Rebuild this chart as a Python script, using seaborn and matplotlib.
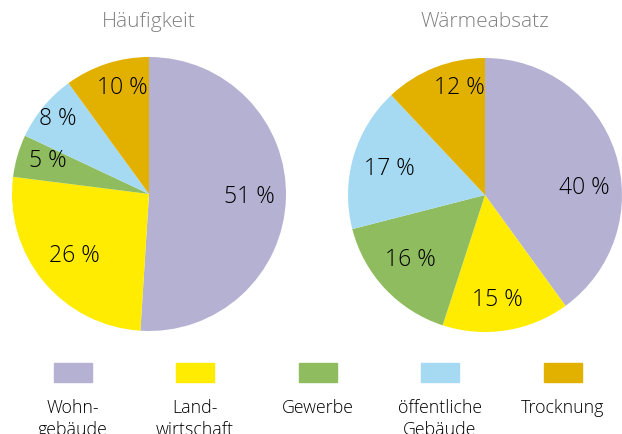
import numpy as np
import seaborn as sns
import matplotlib.pyplot as plt
from matplotlib.patches import Rectangle

# --- Data ---
categories = ["Wohn-\ngebäude", "Land-\nwirtschaft", "Gewerbe", "öffentliche\nGebäude", "Trocknung"]
haeufigkeit = [51, 26, 5, 8, 10]
waermeabsatz = [40, 15, 16, 17, 12]
titles = ["Häufigkeit", "Wärmeabsatz"]
colors = ["#b5b1d3", "#ffec00", "#8fbc5f", "#a6daf3", "#e2b100"]

sns.set_theme(style="white")
plt.rcParams["font.family"] = ["Open Sans", "DejaVu Sans"]

W, H = 622, 434
fig = plt.figure(figsize=(W / 100, H / 100), dpi=100)


def px_axes(cx, cy, r):
    return fig.add_axes([(cx - r) / W, (H - cy - r) / H, 2 * r / W, 2 * r / H])


# label placement tweaks (radial distance, angle nudge in degrees)
label_dist = [[0.73, 0.71, 0.78, 0.86, 0.80], [0.73, 0.77, 0.72, 0.72, 0.80]]
label_nudge = [[0, 0, -2, 0, -4], [-14, -2, -2, 1, -8]]

pie_specs = [(149, 194, haeufigkeit), (485, 195, waermeabsatz)]
for i, ((cx, cy, vals), title) in enumerate(zip(pie_specs, titles)):
    ax = px_axes(cx, cy, 137)
    wedges, _ = ax.pie(vals, colors=colors, startangle=90, counterclock=False,
                       wedgeprops=dict(linewidth=0))
    for j, (w, v) in enumerate(zip(wedges, vals)):
        ang = np.deg2rad((w.theta1 + w.theta2) / 2 + label_nudge[i][j])
        d = label_dist[i][j]
        ax.text(d * np.cos(ang), d * np.sin(ang), f"{v} %", ha="center",
                va="center", fontsize=16.5, color="#000000", fontweight="light")
    ax.set_aspect("equal")
    ax.set_xlim(-1, 1)
    ax.set_ylim(-1, 1)
    fig.text(cx / W, 1 - 22 / H, title, ha="center", va="center",
             fontsize=15, color="#808080", fontweight="light")

# --- Legend (swatch above, label below) ---
legend_x = [73, 195, 318, 440, 563]
for x, col, lab in zip(legend_x, colors, categories):
    fig.patches.append(Rectangle(((x - 19) / W, 1 - 382 / H), 38 / W, 19 / H,
                                 transform=fig.transFigure, color=col))
    fig.text(x / W, 1 - 399 / H, lab, ha="center", va="top", fontsize=12.8,
             color="#000000", linespacing=1.3, fontweight="light")

fig.savefig("out.png", dpi=100)
